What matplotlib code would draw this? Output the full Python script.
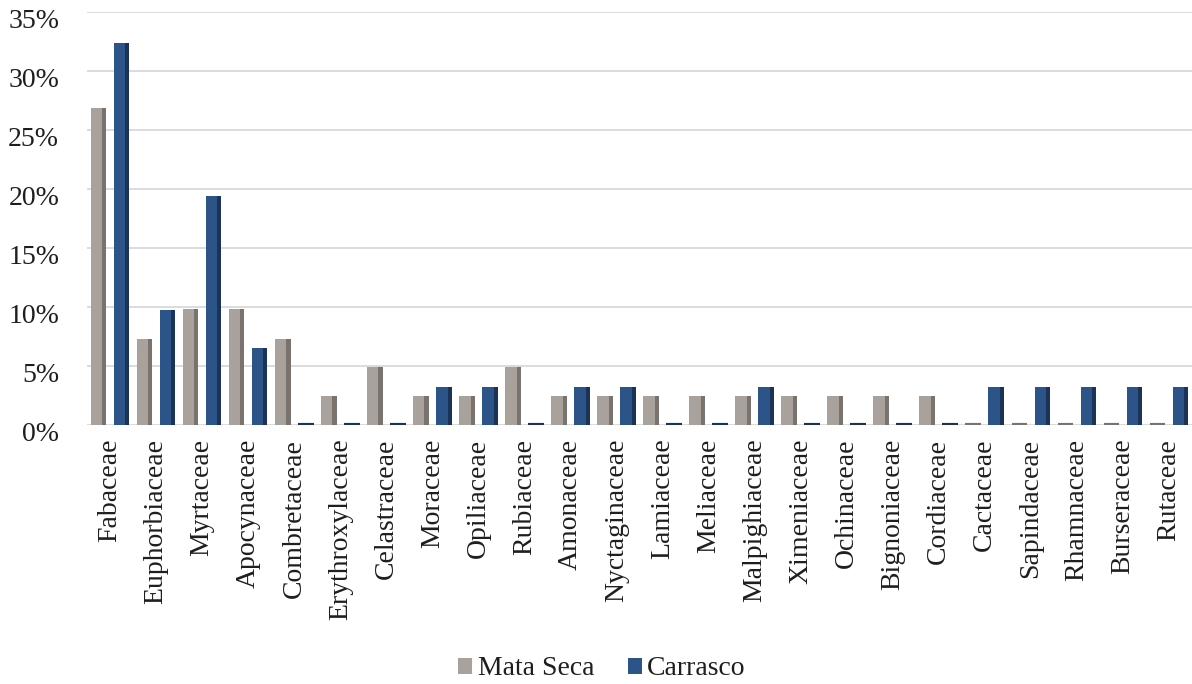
import matplotlib
matplotlib.use("Agg")
import matplotlib.pyplot as plt
import matplotlib.transforms as mtransforms
import numpy as np
from matplotlib.ticker import FuncFormatter

# tick labels as printed in the original figure
labels = ["Fabaceae", "Euphorbiaceae", "Myrtaceae", "Apocynaceae", "Combretaceae",
          "Erythroxylaceae", "Celastraceae", "Moraceae", "Opiliaceae", "Rubiaceae",
          "Amonaceae", "Nyctaginaceae", "Lamiaceae", "Meliaceae", "Malpighiaceae",
          "Ximeniaceae", "Ochinaceae", "Bignoniaceae", "Cordiaceae", "Cactaceae",
          "Sapindaceae", "Rhamnaceae", "Burseraceae", "Rutaceae"]

mata_seca = [26.8, 7.3, 9.8, 9.8, 7.3, 2.4, 4.9, 2.4, 2.4, 4.9, 2.4, 2.4, 2.4, 2.4,
             2.4, 2.4, 2.4, 2.4, 2.4, 0, 0, 0, 0, 0]
carrasco = [32.3, 9.7, 19.4, 6.5, 0, 0, 0, 3.2, 3.2, 0, 3.2, 3.2, 0, 0,
            3.2, 0, 0, 0, 0, 3.2, 3.2, 3.2, 3.2, 3.2]

plt.rcParams['font.family'] = ['Liberation Serif', 'DejaVu Serif']

fig = plt.figure(figsize=(11.92, 6.84), dpi=100)
ax = fig.add_axes([0.073, 0.379, 0.927, 0.604])

n = len(labels)
x = np.arange(n)
w = 0.34
off = 0.25
gray_face, gray_side = "#A9A29C", "#7A736D"
blue_face, blue_side = "#2C5488", "#1A3356"

ms = np.array(mata_seca)
cr = np.array(carrasco)
lw_ms = np.where(ms == 0, 3.0, 0.0)
lw_cr = np.where(cr == 0, 3.0, 0.0)

ax.bar(x - off, ms, width=w, color=gray_face, edgecolor=gray_side, linewidth=lw_ms,
       zorder=3, label="Mata Seca")
ax.bar(x - off + w / 2 - 0.045, ms, width=0.09, color=gray_side, linewidth=0, zorder=4)
ax.bar(x + off, cr, width=w, color=blue_face, edgecolor=blue_side, linewidth=lw_cr,
       zorder=3, label="Carrasco")
ax.bar(x + off + w / 2 - 0.045, cr, width=0.09, color=blue_side, linewidth=0, zorder=4)

ax.set_xlim(-0.5, n - 0.5)
ax.set_ylim(0, 35)
ax.set_yticks(np.arange(0, 36, 5))
ax.yaxis.set_major_formatter(FuncFormatter(lambda v, p: f"{int(v)}%"))
ax.grid(axis='y', color="#D9D9D9", linewidth=1.3, zorder=0)
ax.set_axisbelow(True)
for s in ax.spines.values():
    s.set_visible(False)
ax.tick_params(axis='both', length=0, labelsize=20, colors="#1E1E1E")
ax.tick_params(axis='y', pad=20)
ax.tick_params(axis='x', pad=10)
ax.set_xticks(x)
ax.set_xticklabels(labels, rotation=90, fontsize=20, color="#1E1E1E")

shift = mtransforms.ScaledTranslation(0, -7 / 100, fig.dpi_scale_trans)
for lab in ax.get_yticklabels():
    lab.set_transform(lab.get_transform() + shift)

handles, lbls = ax.get_legend_handles_labels()
leg = fig.legend(handles[:2], lbls[:2], loc='center', bbox_to_anchor=(0.505, 0.022),
                 ncol=2, frameon=False, fontsize=20, handlelength=0.5, handleheight=0.5,
                 handletextpad=0.2, columnspacing=1.2)
for t in leg.get_texts():
    t.set_color("#1E1E1E")

fig.savefig("out.png", dpi=100)
